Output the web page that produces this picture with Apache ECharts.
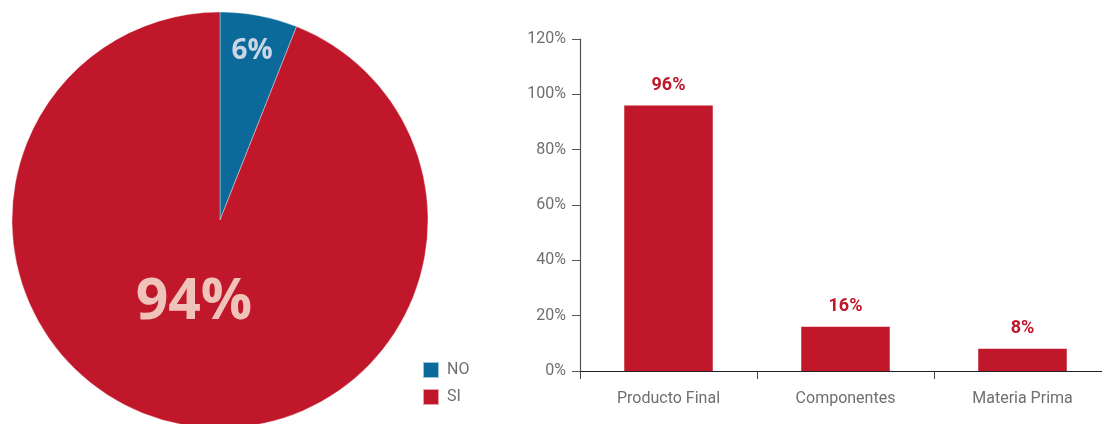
<!DOCTYPE html>
<html>
<head>
<meta charset="utf-8">
<script src="https://cdn.jsdelivr.net/npm/echarts@6/dist/echarts.min.js"></script>
<style>
  html, body { margin: 0; padding: 0; background: #fff; }
  #chart { width: 1102px; height: 424px; }
</style>
</head>
<body>
<div id="chart"></div>
<script>
// Share of answers (pie)
const pieNames = ['NO', 'SI'];
const pieValues = [6, 94];

// Share by type of product (bars)
const barCategories = ['Producto Final', 'Componentes', 'Materia Prima'];
const barValues = [96, 16, 8];

// Value axis ticks
const yMin = 0;
const yMax = 120;
const yStep = 20;

const RED = '#c1172b';
const BLUE = '#0b6a9a';
const GREY_TEXT = '#6f6f6f';

// Per-slice label nudges and colours
const pieLabelShift = [[12, -64], [-6, -22]];
const pieLabelStyle = [
  { color: '#c8d6e6', fontSize: 28 },
  { color: '#f0c3ba', fontSize: 57 }
];

const chart = echarts.init(document.getElementById('chart'), null, { renderer: 'canvas' });

chart.setOption({
  animation: false,
  backgroundColor: '#ffffff',
  legend: {
    orient: 'vertical',
    left: 422,
    top: 361,
    padding: 0,
    itemWidth: 16,
    itemHeight: 16,
    itemGap: 9,
    icon: 'rect',
    data: pieNames,
    textStyle: {
      color: GREY_TEXT,
      fontFamily: 'Roboto',
      fontSize: 16,
      padding: [0, 0, 0, 3]
    }
  },
  grid: {
    left: 580,
    top: 39,
    width: 531,
    height: 332,
    containLabel: false,
    outerBoundsMode: 'none'
  },
  xAxis: {
    type: 'category',
    data: barCategories,
    axisLine: { lineStyle: { color: '#222', width: 1.2 } },
    axisTick: { show: true, length: 8, lineStyle: { color: '#444' } },
    axisLabel: {
      color: GREY_TEXT,
      fontFamily: 'Roboto',
      fontSize: 16,
      margin: 20
    }
  },
  yAxis: {
    type: 'value',
    min: yMin,
    max: yMax,
    interval: yStep,
    axisLine: { show: true, lineStyle: { color: '#555', width: 1.2 } },
    axisTick: { show: true, length: 8, lineStyle: { color: '#555' } },
    splitLine: { show: false },
    axisLabel: {
      color: GREY_TEXT,
      fontFamily: 'Roboto',
      fontSize: 16,
      margin: 14,
      formatter: '{value}%'
    }
  },
  series: [
    {
      type: 'pie',
      center: [220, 220],
      radius: [0, 208],
      startAngle: 90,
      clockwise: true,
      avoidLabelOverlap: false,
      itemStyle: { borderColor: 'rgba(255,255,255,0.6)', borderWidth: 0.6 },
      label: {
        show: true,
        position: 'inside',
        fontFamily: 'Open Sans',
        fontWeight: 'bold',
        formatter: '{c}%'
      },
      labelLine: { show: false },
      labelLayout: function (params) {
        const s = pieLabelShift[params.dataIndex];
        return { dx: s[0], dy: s[1] };
      },
      emphasis: { disabled: true },
      data: pieNames.map((n, i) => ({
        name: n,
        value: pieValues[i],
        itemStyle: { color: i === 0 ? BLUE : RED },
        label: pieLabelStyle[i]
      }))
    },
    {
      type: 'bar',
      data: barValues,
      barWidth: '50%',
      itemStyle: { color: RED },
      label: {
        show: true,
        position: 'top',
        distance: 11,
        color: RED,
        fontFamily: 'Roboto',
        fontWeight: 'bold',
        fontSize: 18,
        formatter: '{c}%'
      },
      emphasis: { disabled: true }
    }
  ]
});
</script>
</body>
</html>
